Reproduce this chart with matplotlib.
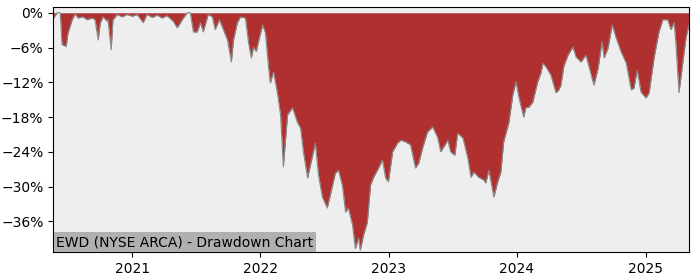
import matplotlib
matplotlib.use("Agg")
import matplotlib.pyplot as plt
import matplotlib.dates as mdates
from matplotlib.ticker import MultipleLocator, PercentFormatter
import pandas as pd

dates = [
    "2020-05-21", "2020-06-01", "2020-06-10", "2020-06-15", "2020-06-27", "2020-07-02",
    "2020-07-14", "2020-07-22", "2020-07-31", "2020-08-14", "2020-08-25", "2020-09-09",
    "2020-09-17", "2020-09-26", "2020-10-02", "2020-10-10", "2020-10-22", "2020-10-24",
    "2020-11-02", "2020-11-07", "2020-11-19", "2020-12-03", "2020-12-17", "2021-01-01",
    "2021-01-15", "2021-02-01", "2021-02-12", "2021-02-27", "2021-03-13", "2021-03-27",
    "2021-04-10", "2021-04-28", "2021-05-09", "2021-05-23", "2021-06-06", "2021-06-15",
    "2021-06-24", "2021-07-05", "2021-07-14", "2021-07-22", "2021-08-05", "2021-08-17",
    "2021-08-25", "2021-09-06", "2021-09-14", "2021-09-29", "2021-10-10", "2021-10-16",
    "2021-10-27", "2021-11-05", "2021-11-19", "2021-11-28", "2021-12-06", "2021-12-12",
    "2021-12-20", "2021-12-26", "2022-01-07", "2022-01-15", "2022-01-24", "2022-01-29",
    "2022-02-07", "2022-02-18", "2022-02-27", "2022-03-07", "2022-03-19", "2022-04-02",
    "2022-04-16", "2022-04-25", "2022-05-03", "2022-05-15", "2022-05-23", "2022-06-06",
    "2022-06-15", "2022-06-26", "2022-07-10", "2022-07-25", "2022-08-02", "2022-08-11",
    "2022-08-22", "2022-08-31", "2022-09-08", "2022-09-20", "2022-09-28", "2022-10-07",
    "2022-10-12", "2022-10-21", "2022-11-01", "2022-11-10", "2022-11-18", "2022-12-03",
    "2022-12-14", "2022-12-23", "2022-12-31", "2023-01-12", "2023-01-26", "2023-02-04",
    "2023-02-18", "2023-03-04", "2023-03-18", "2023-03-27", "2023-04-07", "2023-04-21",
    "2023-05-06", "2023-05-20", "2023-05-29", "2023-06-06", "2023-06-18", "2023-06-26",
    "2023-07-08", "2023-07-16", "2023-07-31", "2023-08-14", "2023-08-23", "2023-08-31",
    "2023-09-14", "2023-09-29", "2023-10-04", "2023-10-13", "2023-10-27", "2023-11-07",
    "2023-11-16", "2023-11-24", "2023-12-09", "2023-12-20", "2023-12-29", "2024-01-06",
    "2024-01-20", "2024-01-26", "2024-02-04", "2024-02-15", "2024-02-29", "2024-03-09",
    "2024-03-15", "2024-03-23", "2024-04-06", "2024-04-21", "2024-04-29", "2024-05-05",
    "2024-05-13", "2024-05-25", "2024-06-08", "2024-06-17", "2024-07-01", "2024-07-15",
    "2024-07-24", "2024-08-07", "2024-08-19", "2024-08-30", "2024-09-05", "2024-09-16",
    "2024-09-28", "2024-10-09", "2024-10-23", "2024-11-07", "2024-11-21", "2024-11-29",
    "2024-12-08", "2024-12-19", "2025-01-02", "2025-01-11", "2025-01-25", "2025-02-08",
    "2025-02-19", "2025-03-05", "2025-03-14", "2025-03-23", "2025-03-28", "2025-04-06",
    "2025-04-17", "2025-04-26", "2025-05-04",
]

drawdown = [
    -1.0, 0.0, 0.0, -5.5, -5.8, -3.5,
    -1.2, -0.2, -0.9, -0.7, -1.2, -0.9,
    -1.2, -4.7, -1.7, -0.7, -1.5, -1.2,
    -6.4, -1.2, -0.3, -0.7, -0.3, -0.6,
    -0.3, -1.7, -0.3, -0.8, -0.4, -0.9,
    -0.5, -1.5, -2.6, -1.2, 0.0, 0.0,
    -3.3, -3.3, -1.7, -3.3, -0.3, -0.7,
    -2.9, -1.2, -2.4, -4.7, -8.5, -4.7,
    -1.7, -0.7, -0.9, -5.2, -7.8, -5.9,
    -6.7, -5.0, -2.1, -3.5, -9.5, -12.1,
    -10.2, -13.8, -17.6, -26.6, -17.6, -16.4,
    -18.9, -19.9, -24.0, -28.5, -26.3, -22.5,
    -28.0, -31.8, -33.7, -29.8, -27.7, -27.2,
    -29.8, -34.4, -33.7, -36.7, -40.7, -38.9,
    -41.0, -38.4, -36.2, -29.8, -28.5, -26.8,
    -25.4, -28.5, -29.2, -24.0, -22.5, -22.0,
    -22.3, -22.8, -26.8, -26.0, -23.4, -20.6,
    -19.7, -21.5, -24.0, -23.2, -22.0, -24.0,
    -24.6, -20.8, -21.6, -25.1, -28.4, -27.5,
    -28.4, -28.9, -29.4, -27.2, -31.8, -29.2,
    -27.5, -22.3, -18.9, -14.2, -11.9, -14.5,
    -18.0, -16.4, -16.3, -15.4, -11.9, -10.4,
    -8.7, -9.3, -10.7, -13.8, -13.3, -12.5,
    -9.3, -7.3, -5.9, -7.6, -8.5, -7.3,
    -9.3, -12.5, -9.5, -5.0, -7.8, -6.1,
    -2.1, -4.3, -6.7, -8.7, -13.3, -13.0,
    -9.9, -13.7, -14.7, -13.8, -7.8, -3.3,
    -1.2, -1.2, -2.9, -1.7, -5.0, -13.8,
    -8.5, -4.3, -2.1,
]

title = "EWD (NYSE ARCA) - Drawdown Chart"

x = pd.to_datetime(dates)

fig = plt.figure(figsize=(7, 2.8), dpi=100)
ax = fig.add_axes([0.076, 0.1, 0.908, 0.875])
ax.set_facecolor("#eeeeee")

ax.fill_between(x, drawdown, 0, color="#b03030", linewidth=0)
ax.plot(x, drawdown, color="#888888", linewidth=0.8)

ax.set_xlim(x[0], x[-1])
ax.set_ylim(-41.3, 1.0)

ax.yaxis.set_major_locator(MultipleLocator(6))
ax.yaxis.set_major_formatter(PercentFormatter(decimals=0))
ax.xaxis.set_major_locator(mdates.YearLocator())
ax.xaxis.set_major_formatter(mdates.DateFormatter("%Y"))

ax.text(0.005, 0.012, title, transform=ax.transAxes, fontsize=10,
        va="bottom", ha="left",
        bbox=dict(facecolor="#b0b0b0", edgecolor="none", pad=2))

fig.savefig("out.png")
